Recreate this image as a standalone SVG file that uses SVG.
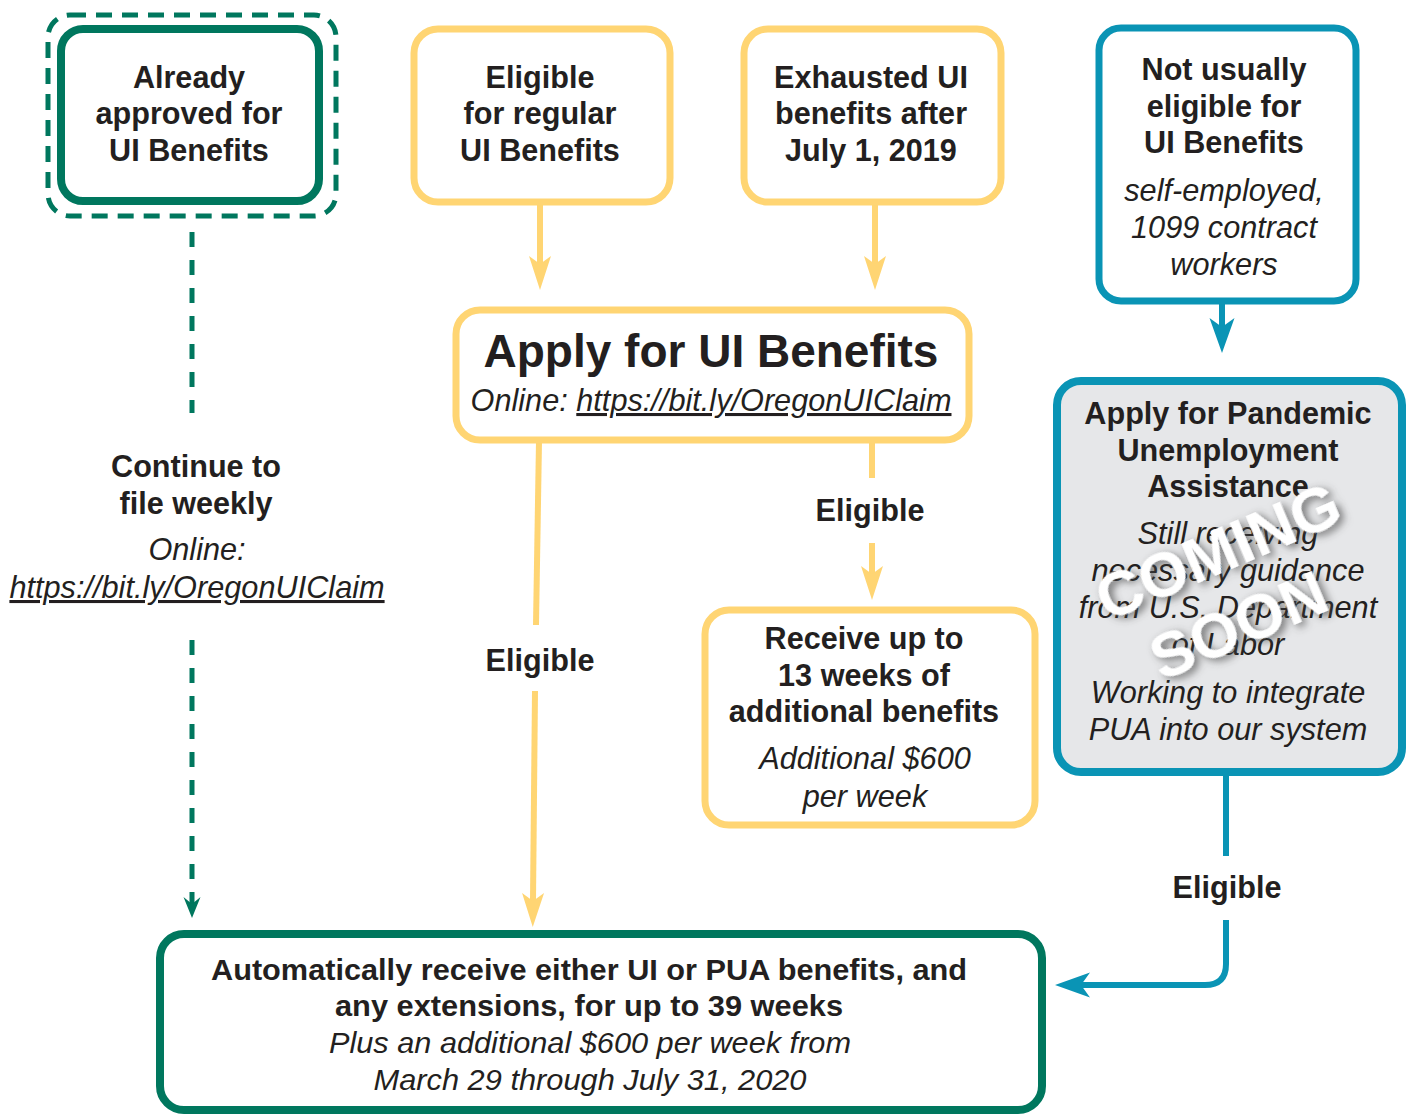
<svg xmlns="http://www.w3.org/2000/svg" width="1407" height="1114" viewBox="0 0 1407 1114">
<style>
  text { font-family: "Liberation Sans", Arial, Helvetica, sans-serif; fill: #231f20; text-anchor: middle; }
  .b { font-weight: bold; font-size: 30.6px; }
  .i { font-style: italic; font-size: 30.7px; }
  .title { font-weight: bold; font-size: 46px; }
  .cb { font-weight: bold; font-size: 29px; }
  .ci { font-style: italic; font-size: 29px; }
  .u { text-decoration: underline; }
  .green { fill: #fff; stroke: #00775e; stroke-width: 8; }
  .yellow { fill: #fff; stroke: #ffd573; stroke-width: 7; }
  .blue { fill: #fff; stroke: #0a94b5; stroke-width: 7; }
  .cy { fill: none; stroke: #ffd573; stroke-width: 6; }
  .cbl { fill: none; stroke: #0a94b5; stroke-width: 6; }
  .cg { fill: none; stroke: #00775e; stroke-width: 5; stroke-dasharray: 15 13; }
  .cs { fill: #fff; font-weight: bold; font-size: 63px; }
</style>
<defs>
  <marker id="ay" markerUnits="userSpaceOnUse" viewBox="-35 -12 36 24" refX="-26" refY="0" markerWidth="36" markerHeight="24" orient="auto">
    <path d="M0,0 L-34,-11 L-26,0 L-34,11 Z" fill="#ffd573"/>
  </marker>
  <marker id="ab" markerUnits="userSpaceOnUse" viewBox="-36 -14 37 28" refX="-26" refY="0" markerWidth="37" markerHeight="28" orient="auto">
    <path d="M0,0 L-35,-12.5 L-26,0 L-35,12.5 Z" fill="#0a94b5"/>
  </marker>
  <marker id="ag" markerUnits="userSpaceOnUse" viewBox="-22 -10 23 20" refX="-14" refY="0" markerWidth="23" markerHeight="20" orient="auto">
    <path d="M0,0 L-21,-8.5 L-14,0 L-21,8.5 Z" fill="#00775e"/>
  </marker>
  <filter id="sh" x="-20%" y="-20%" width="140%" height="140%">
    <feDropShadow dx="3" dy="4" stdDeviation="4" flood-color="#444" flood-opacity="0.75"/>
  </filter>
</defs>

<g id="connectors">
  <path class="cy" d="M540,203 V264" marker-end="url(#ay)"/>
  <path class="cy" d="M875,203 V264" marker-end="url(#ay)"/>
  <path class="cy" d="M539,441 L536,625"/>
  <path class="cy" d="M535,691 L533,901" marker-end="url(#ay)"/>
  <path class="cy" d="M872,441 V478"/>
  <path class="cy" d="M872,543 V574" marker-end="url(#ay)"/>
  <path class="cbl" d="M1222,301 V327" marker-end="url(#ab)"/>
  <path class="cbl" d="M1226,773 V856"/>
  <path class="cbl" d="M1226,920 V964 Q1226,985 1205,985 H1081" marker-end="url(#ab)"/>
  <path class="cg" d="M192,232 V413"/>
  <path class="cg" d="M192,640 V904" marker-end="url(#ag)"/>
  <text class="b" x="540" y="671">Eligible</text>
  <text class="b" x="870" y="521">Eligible</text>
  <text class="b" x="1227" y="898">Eligible</text>
</g>

<g id="already-approved">
  <rect x="48" y="15" width="288" height="201" rx="22" fill="none" stroke="#00775e" stroke-width="5" stroke-dasharray="16 10"/>
  <rect class="green" x="61" y="29" width="258" height="172" rx="22"/>
  <text class="b" x="189" y="88">Already</text>
  <text class="b" x="189" y="124">approved for</text>
  <text class="b" x="189" y="161">UI Benefits</text>
</g>

<g id="continue-weekly">
  <text class="b" x="196" y="477">Continue to</text>
  <text class="b" x="196" y="514">file weekly</text>
  <text class="i" x="197" y="560">Online:</text>
  <text class="i u" x="197" y="598">https://bit.ly/OregonUIClaim</text>
</g>

<g id="eligible-regular">
  <rect class="yellow" x="414" y="29" width="256" height="173" rx="24"/>
  <text class="b" x="540" y="88">Eligible</text>
  <text class="b" x="540" y="124">for regular</text>
  <text class="b" x="540" y="161">UI Benefits</text>
</g>

<g id="exhausted">
  <rect class="yellow" x="744" y="29" width="257" height="173" rx="24"/>
  <text class="b" x="871" y="88">Exhausted UI</text>
  <text class="b" x="871" y="124">benefits after</text>
  <text class="b" x="871" y="161">July 1, 2019</text>
</g>

<g id="not-usually-eligible">
  <rect class="blue" x="1099" y="28" width="257" height="273" rx="22"/>
  <text class="b" x="1224" y="80">Not usually</text>
  <text class="b" x="1224" y="117">eligible for</text>
  <text class="b" x="1224" y="153">UI Benefits</text>
  <text class="i" x="1224" y="201">self-employed,</text>
  <text class="i" x="1224" y="238">1099 contract</text>
  <text class="i" x="1224" y="275">workers</text>
</g>

<g id="apply-ui">
  <rect class="yellow" x="456" y="310" width="513" height="130" rx="24"/>
  <text class="title" x="711" y="367">Apply for UI Benefits</text>
  <text class="i" x="711" y="411">Online: <tspan class="u">https://bit.ly/OregonUIClaim</tspan></text>
</g>

<g id="receive-13-weeks">
  <rect class="yellow" x="705" y="610" width="330" height="215" rx="24"/>
  <text class="b" x="864" y="649">Receive up to</text>
  <text class="b" x="864" y="686">13 weeks of</text>
  <text class="b" x="864" y="722">additional benefits</text>
  <text class="i" x="865" y="769">Additional $600</text>
  <text class="i" x="865" y="807">per week</text>
</g>

<g id="apply-pua">
  <rect x="1057" y="381" width="345" height="391" rx="24" fill="#e6e7e9" stroke="#0a94b5" stroke-width="8"/>
  <text class="b" x="1228" y="424">Apply for Pandemic</text>
  <text class="b" x="1228" y="461">Unemployment</text>
  <text class="b" x="1228" y="497">Assistance</text>
  <text class="i" x="1228" y="544">Still receiving</text>
  <text class="i" x="1228" y="581">necessary guidance</text>
  <text class="i" x="1228" y="618">from U.S. Department</text>
  <text class="i" x="1228" y="655">of Labor</text>
  <text class="i" x="1228" y="703">Working to integrate</text>
  <text class="i" x="1228" y="740">PUA into our system</text>
  <g transform="translate(1228,590) rotate(-23)" filter="url(#sh)">
    <text class="cs" x="6" y="-18">COMING</text>
    <text class="cs" x="-4" y="58">SOON</text>
  </g>
</g>

<g id="automatically-receive">
  <rect class="green" x="160" y="934" width="882" height="176" rx="24"/>
  <text class="cb" x="589" y="980" textLength="756" lengthAdjust="spacingAndGlyphs">Automatically receive either UI or PUA benefits, and</text>
  <text class="cb" x="589" y="1016" textLength="508" lengthAdjust="spacingAndGlyphs">any extensions, for up to 39 weeks</text>
  <text class="ci" x="590" y="1053" textLength="522" lengthAdjust="spacingAndGlyphs">Plus an additional $600 per week from</text>
  <text class="ci" x="590" y="1090" textLength="433" lengthAdjust="spacingAndGlyphs">March 29 through July 31, 2020</text>
</g>
</svg>
